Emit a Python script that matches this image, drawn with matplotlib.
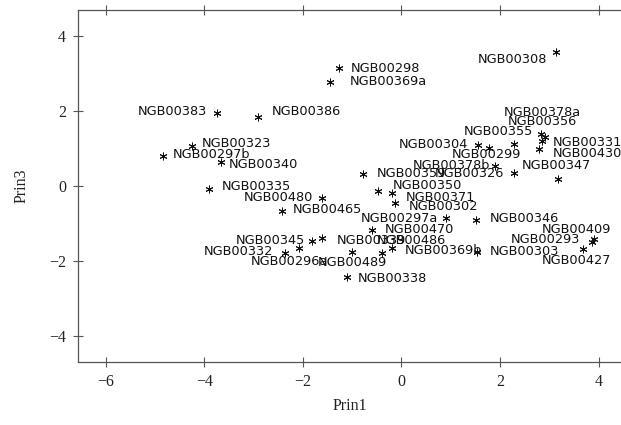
import numpy as np
import matplotlib.pyplot as plt

# accession names and their scores on the 1st and 3rd principal components
names = ['NGB00308', 'NGB00298', 'NGB00369a', 'NGB00383', 'NGB00386',
         'NGB00378a', 'NGB00356', 'NGB00355', 'NGB00331', 'NGB00430',
         'NGB00304', 'NGB00299', 'NGB00323', 'NGB00297b', 'NGB00340',
         'NGB00378b', 'NGB00347', 'NGB00359', 'NGB00326', 'NGB00350',
         'NGB00335', 'NGB00371', 'NGB00480', 'NGB00465', 'NGB00302',
         'NGB00297a', 'NGB00346', 'NGB00470', 'NGB00409', 'NGB00345',
         'NGB00339', 'NGB00486', 'NGB00293', 'NGB00332', 'NGB00369b',
         'NGB00303', 'NGB00296a', 'NGB00489', 'NGB00427', 'NGB00338']
prin1 = [3.13, -1.26, -1.45, -3.74, -2.91,
         2.83, 2.91, 2.28, 2.85, 2.79,
         1.55, 1.77, -4.25, -4.84, -3.66,
         1.90, 3.17, -0.78, 2.28, -0.48,
         -3.90, -0.19, -1.61, -2.42, -0.13,
         0.90, 1.51, -0.60, 3.91, -1.82,
         -1.61, -0.40, 3.87, -2.36, -0.19,
         1.53, -2.07, -1.01, 3.68, -1.11]
prin3 = [3.57, 3.15, 2.77, 1.95, 1.84,
         1.39, 1.31, 1.12, 1.20, 0.99,
         1.09, 1.01, 1.07, 0.80, 0.64,
         0.53, 0.19, 0.32, 0.35, -0.13,
         -0.08, -0.19, -0.32, -0.67, -0.45,
         -0.85, -0.91, -1.17, -1.41, -1.47,
         -1.39, -1.79, -1.49, -1.79, -1.65,
         -1.76, -1.65, -1.76, -1.68, -2.43]

# where each label sits relative to its star (pixels), like the SAS line printer plot
label_off = [(-9, -7, 'right'), (11, -1, 'left'), (20, 1, 'left'), (-10, 1, 'right'), (14, 5, 'left'),
             (-37, 21, 'left'), (-37, 15, 'left'), (19, 12, 'right'), (11, -2, 'left'), (14, -5, 'left'),
             (-10, 1, 'right'), (-37, -6, 'left'), (10, 2, 'left'), (10, 1, 'left'), (8, -3, 'left'),
             (-5, 1, 'right'), (-36, 13, 'left'), (14, 0, 'left'), (-10, -1, 'right'), (15, 5, 'left'),
             (13, 3, 'left'), (14, -4, 'left'), (-9, 1, 'right'), (11, 2, 'left'), (14, -4, 'left'),
             (-8, -1, 'right'), (14, 2, 'left'), (13, 0, 'left'), (17, 9, 'right'), (-7, 1, 'right'),
             (15, -2, 'left'), (-5, 13, 'left'), (-12, 2, 'right'), (-12, 2, 'right'), (13, -3, 'left'),
             (13, 1, 'left'), (-49, -14, 'left'), (35, -10, 'right'), (28, -11, 'right'), (11, -1, 'left')]

fig = plt.figure(figsize=(6.21, 4.25), dpi=100)
ax = fig.add_axes([78 / 621, 1 - 362 / 425, 543 / 621, 352 / 425])

ax.plot(prin1, prin3, linestyle='none', marker=(6, 2, 0), ms=5.5, mew=0.7, color='#111111')
for n, x, y, (dx, dy, ha) in zip(names, prin1, prin3, label_off):
    ax.annotate(n, (x, y), xytext=(dx, dy), textcoords='offset pixels',
                ha=ha, va='center', fontsize=9.3, color='#111111', family='DejaVu Sans')

ax.set_xlim(-6.56, 4.454)
ax.set_ylim(-4.69, 4.69)
ax.set_xticks(np.arange(-6, 5, 2))
ax.set_yticks(np.arange(-4, 5, 2))

for side in ['left', 'bottom', 'top']:
    ax.spines[side].set_color('#555555')
    ax.spines[side].set_linewidth(0.9)
ax.spines['right'].set_visible(False)

ax.tick_params(direction='inout', length=7, width=0.8, color='#555555',
               labelsize=11.5, labelcolor='#222222', pad=5)
ax.tick_params(axis='x', top=True, labeltop=False)
for lab in ax.get_xticklabels() + ax.get_yticklabels():
    lab.set_family('Liberation Serif')

ax.set_xlabel('Prin1', family='Liberation Serif', fontsize=11.5, color='#222222', labelpad=6)
ax.set_ylabel('Prin3', family='Liberation Serif', fontsize=11.5, color='#222222', labelpad=14)

fig.savefig('out.png', dpi=100)
